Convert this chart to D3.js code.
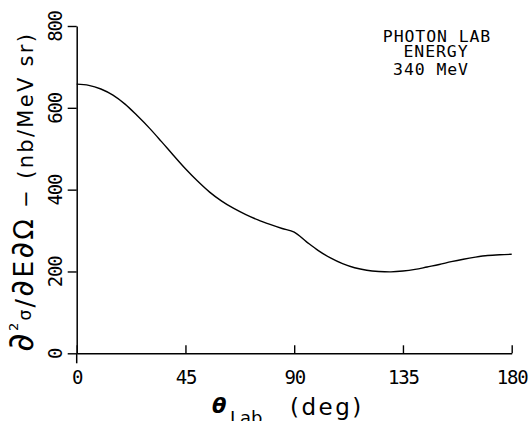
<!DOCTYPE html>
<html><head><meta charset="utf-8">
<script src="https://cdn.jsdelivr.net/npm/d3@7"></script>
<style>
html,body{margin:0;padding:0;background:#fff;}
svg{display:block;}
</style></head>
<body>
<script>
// ---- data ----
const angles = [0,5,10,15,20,25,30,35,40,45,50,55,60,65,70,75,80,85,90,95,100,105,110,115,120,125,130,135,140,145,150,155,160,165,170,175,180];
const crossSection = [658,655,646,631,609,581,551,518,484,451,421,394,372,354,339,326,315,305,296,273,251,233,219,209,203,200,199,201,205,211,217,224,230,235,239,241,242];
const xTicks = [0,45,90,135,180];
const yTicks = [0,200,400,600,800];
const titleLines = ["PHOTON LAB","ENERGY","340 MeV"];

const W = 530, H = 421;
const svg = d3.select("body").append("svg").attr("width",W).attr("height",H);

const x = d3.scaleLinear().domain([0,180]).range([76.7,511.7]);
const y = d3.scaleLinear().domain([0,800]).range([353.3,26]);

const mono = "'DejaVu Sans Mono', monospace";
const sans = "'DejaVu Sans', sans-serif";

// x axis
const gx = svg.append("g").attr("transform",`translate(0,${y(0)})`)
  .call(d3.axisBottom(x).tickValues(xTicks).tickSizeInner(-8).tickSizeOuter(0).tickFormat(d3.format("d")));
gx.select(".domain").attr("stroke","#000").attr("stroke-width",1.5);
gx.selectAll(".tick line").attr("stroke","#000").attr("stroke-width",1.4);
gx.selectAll(".tick text").attr("y",31).attr("dy",0)
  .attr("font-family",mono).attr("font-size",19).attr("letter-spacing",-1.2).attr("fill","#000");

// small downward tick at origin
svg.append("line").attr("x1",x(0)).attr("x2",x(0)).attr("y1",y(0)).attr("y2",y(0)+10)
  .attr("stroke","#000").attr("stroke-width",1.5);

// y axis
const gy = svg.append("g").attr("transform",`translate(${x(0)},0)`)
  .call(d3.axisLeft(y).tickValues(yTicks).tickSizeInner(9).tickSizeOuter(0).tickFormat(d3.format("d")));
gy.select(".domain").attr("stroke","#000").attr("stroke-width",1.5);
gy.selectAll(".tick line").attr("stroke","#000").attr("stroke-width",1.4);
gy.selectAll(".tick text")
  .attr("x",null).attr("dy",null)
  .attr("transform","translate(-15,0) rotate(-90)")
  .attr("text-anchor","middle")
  .attr("font-family",mono).attr("font-size",19).attr("letter-spacing",-1.2).attr("fill","#000");

// curve
const line = d3.line().x((d,i)=>x(angles[i])).y(d=>y(d)).curve(d3.curveCatmullRom.alpha(0.5));
svg.append("path").datum(crossSection).attr("d",line)
  .attr("fill","none").attr("stroke","#000").attr("stroke-width",1.4);

// title
const tl = svg.append("g").attr("font-family",mono).attr("font-size",16.5).attr("fill","#000").attr("letter-spacing",0.9).attr("text-anchor","middle");
tl.append("text").attr("x",437).attr("y",42).text(titleLines[0]);
tl.append("text").attr("x",436).attr("y",57).text(titleLines[1]);
tl.append("text").attr("x",431).attr("y",75).text(titleLines[2]);

// x axis title
svg.append("text").attr("x",212).attr("y",413).attr("font-family",sans).attr("font-weight","bold").attr("font-style","italic")
  .attr("font-size",21).attr("fill","#000").text("θ");
svg.append("text").attr("x",230).attr("y",424).attr("font-family",sans)
  .attr("font-size",18).attr("fill","#000").text("Lab");
svg.append("text").attr("x",290).attr("y",415).attr("font-family",sans)
  .attr("font-size",23).attr("fill","#000").attr("letter-spacing",2.5).text("(deg)");

// y axis title
const yl = svg.append("text").attr("transform","translate(33,352) rotate(-90)")
  .attr("font-family",sans).attr("fill","#000")
  .attr("textLength",318).attr("lengthAdjust","spacing");
yl.append("tspan").attr("font-size",36).text("∂");
yl.append("tspan").attr("font-size",13).attr("dy",-15).text("2");
yl.append("tspan").attr("font-size",17).attr("dy",13).text("σ");
yl.append("tspan").attr("font-size",25).attr("dy",2).text("/");
yl.append("tspan").attr("font-size",32).text("∂");
yl.append("tspan").attr("font-size",27).text("E");
yl.append("tspan").attr("font-size",32).text("∂");
yl.append("tspan").attr("font-size",27).text("Ω");
yl.append("tspan").attr("font-size",21).text(" − ");
yl.append("tspan").attr("font-size",21).text("(nb/MeV sr)");
</script>
</body></html>
